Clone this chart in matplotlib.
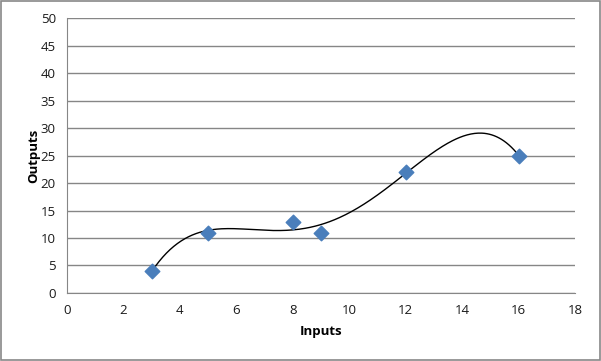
import numpy as np
import matplotlib
matplotlib.use("Agg")
import matplotlib.pyplot as plt
from matplotlib.patches import Rectangle

inputs = [3, 5, 8, 9, 12, 16]
outputs = [4, 11, 13, 11, 22, 25]
x_ticks = [0, 2, 4, 6, 8, 10, 12, 14, 16, 18]
y_ticks = [0, 5, 10, 15, 20, 25, 30, 35, 40, 45, 50]

plt.rcParams['font.family'] = ['Open Sans', 'DejaVu Sans']

fig = plt.figure(figsize=(6.01, 3.61), dpi=100)
fig.patches.append(Rectangle((0.0015, 0.002), 0.997, 0.995, transform=fig.transFigure,
                             fill=False, edgecolor='#888888', linewidth=1.2))
ax = fig.add_axes([0.1115, 0.1884, 0.8455, 0.7616])

coef = np.polyfit(inputs, outputs, 4)
xs = np.linspace(min(inputs), max(inputs), 300)
ax.plot(xs, np.polyval(coef, xs), color='black', linewidth=1.0, zorder=3)
ax.scatter(inputs, outputs, marker='D', s=55, color='#4a7ebb', edgecolor='#4a7ebb', zorder=4)

ax.set_xlim(0, 18)
ax.set_ylim(0, 50)
ax.set_xticks(x_ticks)
ax.set_yticks(y_ticks)
ax.yaxis.grid(True, color='#868686', linewidth=1.0)
ax.set_axisbelow(True)
for s in ['top', 'right']:
    ax.spines[s].set_visible(False)
for s in ['left', 'bottom']:
    ax.spines[s].set_color('#868686')
ax.tick_params(length=0, labelsize=9.5, colors='#1a1a1a', pad=8)
ax.set_xlabel('Inputs', fontsize=9.5, fontweight='bold', labelpad=6)
ax.set_ylabel('Outputs', fontsize=9.5, fontweight='bold', labelpad=0)

fig.savefig('out.png', dpi=100)
